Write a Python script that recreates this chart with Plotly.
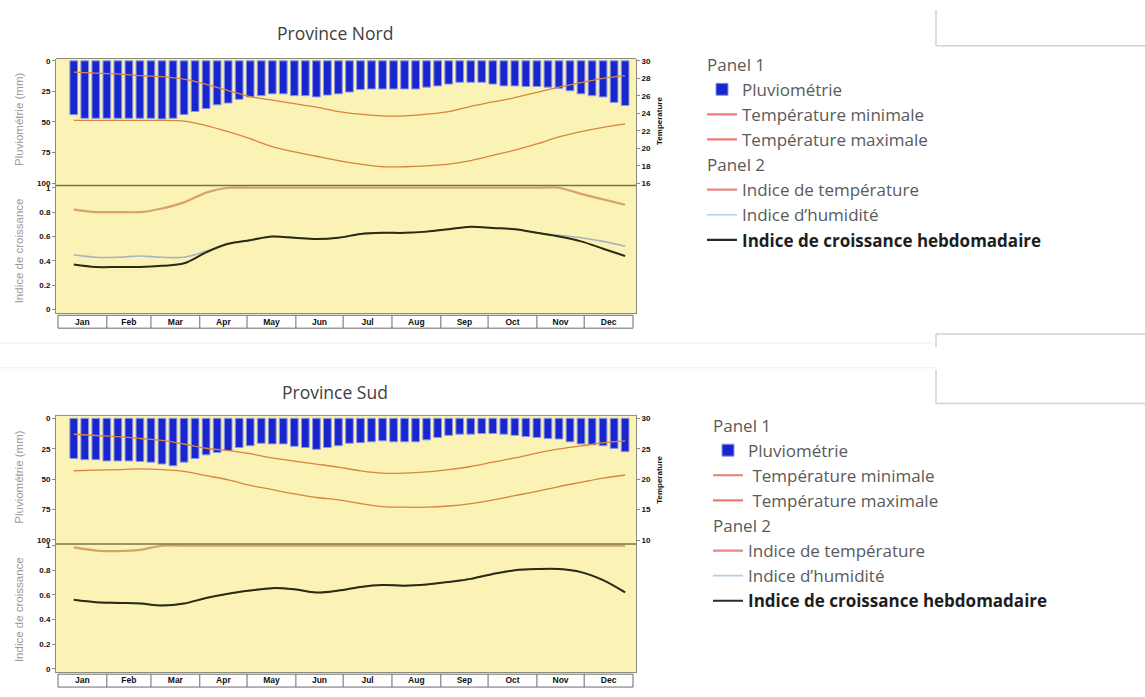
import plotly.graph_objects as go

W, H = 1145, 697

# ---------------- data ----------------
months = ["Jan", "Feb", "Mar", "Apr", "May", "Jun", "Jul", "Aug", "Sep", "Oct", "Nov", "Dec"]
month_days = [31, 28, 31, 30, 31, 30, 31, 31, 30, 31, 30, 31]
weeks = list(range(1, 52))            # weekly rainfall bars
line_weeks = list(range(1, 52, 2))    # points

# Province Nord
rain_nord = [44, 47, 47, 47, 47, 47, 47, 47, 47.5, 47,
             44, 41.5, 39, 36, 34.5, 31.5, 29.5, 28.5, 27, 27,
             28.5, 28.5, 29.5, 28, 27, 25.5, 23.5, 23, 23, 23,
             23, 23, 21.5, 20.5, 19, 17.5, 17.5, 17.5, 19, 20.5,
             20.5, 21, 21, 21.5, 22.5, 24.5, 27, 28.5, 29.5, 34, 36.5]
tmin_nord = [23.2, 23.2, 23.2, 23.2, 23.2, 23.1, 22.6, 21.9, 21.1, 20.2, 19.6, 19.1, 18.6,
             18.2, 17.9, 17.9, 18.0, 18.2, 18.6, 19.2, 19.8, 20.5, 21.3, 21.9, 22.4, 22.8]
tmax_nord = [28.7, 28.6, 28.5, 28.3, 28.2, 27.9, 27.3, 26.6, 25.9, 25.5, 25.1, 24.7, 24.2,
             23.9, 23.7, 23.7, 23.9, 24.2, 24.8, 25.3, 25.8, 26.4, 27.0, 27.5, 28.0, 28.3]
tidx_nord = [0.82, 0.80, 0.80, 0.80, 0.83, 0.88, 0.96, 1.0, 1.0, 1.0, 1.0, 1.0, 1.0,
             1.0, 1.0, 1.0, 1.0, 1.0, 1.0, 1.0, 1.0, 1.0, 1.0, 0.95, 0.905, 0.86]
hidx_nord = [0.45, 0.43, 0.43, 0.44, 0.43, 0.43, 0.48, 0.54, 0.57, 0.60, 0.59, 0.58, 0.59,
             0.62, 0.63, 0.63, 0.64, 0.66, 0.68, 0.67, 0.66, 0.63, 0.61, 0.59, 0.56, 0.52]
gidx_nord = [0.37, 0.35, 0.35, 0.35, 0.36, 0.38, 0.47, 0.54, 0.57, 0.60, 0.59, 0.58, 0.59,
             0.62, 0.63, 0.63, 0.64, 0.66, 0.68, 0.67, 0.66, 0.63, 0.60, 0.56, 0.50, 0.44]

# Province Sud
rain_sud = [33, 34, 34, 35, 35, 35, 35.5, 36, 37.5, 39,
            36, 33, 30, 28, 26.5, 24, 22.5, 20.5, 21, 21,
            23, 24, 25.5, 24, 22.5, 20.5, 20, 19.3, 18.5, 19.3,
            19.3, 19.3, 17.7, 15.7, 14, 13, 13, 12.5, 12.5, 13,
            14, 15, 15.7, 16.6, 17, 19.3, 21, 21.7, 22.5, 24.7, 27.4]
tmin_sud = [21.4, 21.5, 21.6, 21.7, 21.6, 21.3, 20.6, 19.9, 19.0, 18.3, 17.6, 17.0, 16.6,
            16.0, 15.5, 15.4, 15.4, 15.6, 16.0, 16.6, 17.3, 18.0, 18.8, 19.5, 20.2, 20.7]
tmax_sud = [27.4, 27.2, 27.0, 26.7, 26.4, 25.8, 25.1, 24.7, 24.2, 23.5, 23.0, 22.5, 22.0,
            21.4, 21.0, 21.0, 21.2, 21.6, 22.1, 22.8, 23.5, 24.3, 25.0, 25.5, 26.0, 26.3]
tidx_sud = [0.985, 0.96, 0.955, 0.965, 1.0, 1.0, 1.0, 1.0, 1.0, 1.0, 1.0, 1.0, 1.0,
            1.0, 1.0, 1.0, 1.0, 1.0, 1.0, 1.0, 1.0, 1.0, 1.0, 1.0, 1.0, 1.0]
hidx_sud = [0.563, 0.543, 0.538, 0.533, 0.515, 0.53, 0.575, 0.61, 0.635, 0.655, 0.645, 0.62, 0.635,
            0.665, 0.68, 0.675, 0.685, 0.705, 0.73, 0.77, 0.80, 0.81, 0.81, 0.785, 0.72, 0.62]
gidx_sud = [0.56, 0.54, 0.535, 0.53, 0.515, 0.53, 0.575, 0.61, 0.635, 0.655, 0.645, 0.62, 0.635,
            0.665, 0.68, 0.675, 0.685, 0.705, 0.73, 0.77, 0.80, 0.81, 0.81, 0.785, 0.72, 0.62]

series_names = ["Pluviométrie", "Température minimale", "Température maximale",
                "Indice de température", "Indice d\u2019humidité",
                "<b>Indice de croissance hebdomadaire</b>"]
group_titles = ["Panel 1", "Panel 2"]
titles = ["Province Nord", "Province Sud"]

# ---------------- helpers ----------------
def fx(p):
    return p / W

def fy(p):
    return 1 - p / H

def week_day(w):
    return 7 * w + 3

bar_days = [week_day(w) for w in weeks]
line_days = [week_day(w) for w in line_weeks]
bounds = [0]
for d in month_days:
    bounds.append(bounds[-1] + d)
mids = [(bounds[i] + bounds[i + 1]) / 2 for i in range(12)]

YELLOW = "#faf3b5"
FRAME = "#8c8c7c"
BAR = "#1726cf"
TLINE = "#d9843f"
TIDX = "#d8a268"
HIDX = "#aab2c4"
GIDX = "#2b2b12"
TICKFONT = dict(family="Arial", size=8, color="#111111", weight="bold")
LEGFONT = dict(family="Open Sans", size=17, color="#5a5a5a")
LEG_COLORS = ["#ef7a72", "#ef7a72", "#e98680", "#b6cde4", "#2a2a2a"]

charts = [
    dict(title=titles[0], title_y=30, top=56, mid=184, bottom=313,
         rain=rain_nord, tmin=tmin_nord, tmax=tmax_nord, tidx=tidx_nord, hidx=hidx_nord, gidx=gidx_nord,
         rain_range=[101.9, -1.9], temp_range=[15.77, 30.26], t0=16, dt=2,
         idx_range=[-0.03, 1.019], leg_x=702, leg_y=44, legend="legend", pad_temp="",
         temp_title_y=119, xa="x", ya=("y", "y2", "y3")),
    dict(title=titles[1], title_y=392, top=416, mid=545.7, bottom=675,
         rain=rain_sud, tmin=tmin_sud, tmax=tmax_sud, tidx=tidx_sud, hidx=hidx_sud, gidx=gidx_sud,
         rain_range=[103.3, -2.4], temp_range=[9.35, 30.5], t0=10, dt=5,
         idx_range=[-0.027, 1.013], leg_x=708, leg_y=408, legend="legend2", pad_temp="\u00a0",
         temp_title_y=481, xa="x2", ya=("y4", "y5", "y6")),
]

X_L, X_R = 56, 636
X_RANGE = [-1.27, 366.9]

fig = go.Figure()
layout = {}
shapes = []
annotations = []

for k, c in enumerate(charts):
    xa = c["xa"]
    ya_r, ya_t, ya_i = c["ya"]
    g1, g2 = "g%d_1" % k, "g%d_2" % k

    # panel 1: rainfall bars + temperature lines
    fig.add_trace(go.Bar(x=bar_days, y=c["rain"], width=4.9, xaxis=xa, yaxis=ya_r,
                         marker=dict(color=BAR, line=dict(color="#8e97e4", width=1)),
                         name=series_names[0], legend=c["legend"], legendgroup=g1,
                         legendgrouptitle=dict(text=group_titles[0], font=LEGFONT)))
    fig.add_trace(go.Scatter(x=line_days, y=c["tmin"], xaxis=xa, yaxis=ya_t, mode="lines",
                             line=dict(color=TLINE, width=1.3, shape="spline"), showlegend=False))
    fig.add_trace(go.Scatter(x=line_days, y=c["tmax"], xaxis=xa, yaxis=ya_t, mode="lines",
                             line=dict(color=TLINE, width=1.3, shape="spline"), showlegend=False))
    # panel 2: indices
    fig.add_trace(go.Scatter(x=line_days, y=c["tidx"], xaxis=xa, yaxis=ya_i, mode="lines",
                             line=dict(color=TIDX, width=2.2, shape="spline", smoothing=0.6),
                             showlegend=False))
    fig.add_trace(go.Scatter(x=line_days, y=c["hidx"], xaxis=xa, yaxis=ya_i, mode="lines",
                             line=dict(color=HIDX, width=1.6, shape="spline"), showlegend=False))
    fig.add_trace(go.Scatter(x=line_days, y=c["gidx"], xaxis=xa, yaxis=ya_i, mode="lines",
                             line=dict(color=GIDX, width=2, shape="spline"), showlegend=False))

    # legend entries (line styles as shown in the reference legend)
    for j in range(1, 6):
        grp = g1 if j < 3 else g2
        extra = {}
        if j == 3:
            extra["legendgrouptitle"] = dict(text=group_titles[1], font=LEGFONT)
        nm = series_names[j]
        if j in (1, 2):
            nm = c["pad_temp"] + nm
        if j == 5:
            nm = "<span style='color:#1e1e1e'>" + nm + "</span>"
        fig.add_trace(go.Scatter(x=[None], y=[None], xaxis=xa, yaxis=ya_r, mode="lines",
                                 line=dict(color=LEG_COLORS[j - 1], width=2.2 if j != 4 else 1.6),
                                 name=nm, legend=c["legend"], legendgroup=grp, **extra))

    xname = "xaxis" if xa == "x" else "xaxis2"
    yn = ["yaxis" + (a[1:] if len(a) > 1 else "") for a in c["ya"]]

    layout[xname] = dict(domain=[fx(X_L), fx(X_R)], range=X_RANGE, anchor=ya_i,
                         showgrid=False, zeroline=False, showline=True, linecolor=FRAME,
                         tickmode="array", tickvals=mids, ticktext=months, ticks="",
                         tickfont=dict(family="Arial", size=8.5, color="#111111", weight="bold"))
    layout[yn[0]] = dict(domain=[fy(c["mid"]), fy(c["top"])], range=c["rain_range"], anchor=xa,
                         showgrid=False, zeroline=False, showline=True, linecolor=FRAME,
                         tickmode="array", tickvals=[0, 25, 50, 75, 100], ticks="outside",
                         ticklen=3, tickcolor=FRAME, tickfont=TICKFONT)
    layout[yn[1]] = dict(overlaying=ya_r, side="right", anchor=xa, range=c["temp_range"],
                         showgrid=False, zeroline=False, showline=True, linecolor=FRAME,
                         tickmode="linear", tick0=c["t0"], dtick=c["dt"], ticks="outside",
                         ticklen=3, tickcolor=FRAME, tickfont=TICKFONT)
    layout[yn[2]] = dict(domain=[fy(c["bottom"]), fy(c["mid"])], range=c["idx_range"], anchor=xa,
                         showgrid=False, zeroline=False, showline=True, mirror=True, linecolor=FRAME,
                         tickmode="array", tickvals=[0, 0.2, 0.4, 0.6, 0.8, 1],
                         ticktext=["0", "0.2", "0.4", "0.6", "0.8", "1"], ticks="outside",
                         ticklen=3, tickcolor=FRAME, tickfont=TICKFONT)

    layout[c["legend"]] = dict(x=fx(c["leg_x"]), y=fy(c["leg_y"]), xanchor="left", yanchor="top",
                               font=LEGFONT, bgcolor="rgba(0,0,0,0)", tracegroupgap=0,
                               itemwidth=30, grouptitlefont=LEGFONT)

    # frame top border and panel divider
    shapes.append(dict(type="line", xref="paper", yref="paper", x0=fx(X_L), x1=fx(X_R),
                       y0=fy(c["top"]), y1=fy(c["top"]), line=dict(color=FRAME, width=1)))
    shapes.append(dict(type="line", xref="paper", yref="paper", x0=fx(X_L), x1=fx(X_R),
                       y0=fy(c["mid"]), y1=fy(c["mid"]), line=dict(color="#7d7444", width=1.5)))
    # month band
    b_top, b_bot = c["bottom"] + 2, c["bottom"] + 15
    shapes.append(dict(type="rect", xref=xa, yref="paper", x0=bounds[0], x1=bounds[-1],
                       y0=fy(b_bot), y1=fy(b_top), line=dict(color="#6a6a6a", width=1),
                       fillcolor="rgba(0,0,0,0)"))
    for b in bounds[1:-1]:
        shapes.append(dict(type="line", xref=xa, yref="paper", x0=b, x1=b,
                           y0=fy(b_bot), y1=fy(b_top), line=dict(color="#6a6a6a", width=1)))

    # titles
    common = dict(xref="paper", yref="paper", showarrow=False, xanchor="center", yanchor="middle")
    annotations.append(dict(text=c["title"], x=fx(335), y=fy(c["title_y"]),
                            font=dict(family="Open Sans", size=17.5, color="#404040"), **common))
    annotations.append(dict(text="Pluviométrie (mm)", x=fx(19), y=fy((c["top"] + c["mid"]) / 2 - 2),
                            textangle=-90, font=dict(family="Arial", size=11.5, color="#9a9a9a"), **common))
    annotations.append(dict(text="Indice de croissance", x=fx(19), y=fy((c["mid"] + c["bottom"]) / 2 + 2),
                            textangle=-90, font=dict(family="Arial", size=11.5, color="#9a9a9a"), **common))
    annotations.append(dict(text="Temperature", x=fx(660), y=fy(c["temp_title_y"]), textangle=-90,
                            font=dict(family="Arial", size=8, color="#111111", weight="bold"), **common))

# decorative frames on the right and faint separators
deco = [((936, 7), (936, 43)), ((936, 43), (1145, 43)),
        ((936, 334), (1145, 334)), ((936, 334), (936, 347)),
        ((936, 370), (936, 404)), ((936, 404), (1145, 404))]
for (a, b) in deco:
    shapes.append(dict(type="line", xref="paper", yref="paper", x0=fx(a[0]), y0=fy(a[1]),
                       x1=fx(b[0]), y1=fy(b[1]), line=dict(color="#d2d2d2", width=1.5)))
for yy in (343, 368):
    shapes.append(dict(type="line", xref="paper", yref="paper", x0=0, x1=fx(936), y0=fy(yy), y1=fy(yy),
                       line=dict(color="#efefef", width=1)))

fig.update_layout(width=W, height=H, autosize=False, margin=dict(l=0, r=0, t=0, b=0),
                  paper_bgcolor="white", plot_bgcolor=YELLOW, barmode="overlay",
                  shapes=shapes, annotations=annotations, **layout)

fig.write_html("out.html", config={"displayModeBar": False},
               post_script="document.body.style.margin='0';")
